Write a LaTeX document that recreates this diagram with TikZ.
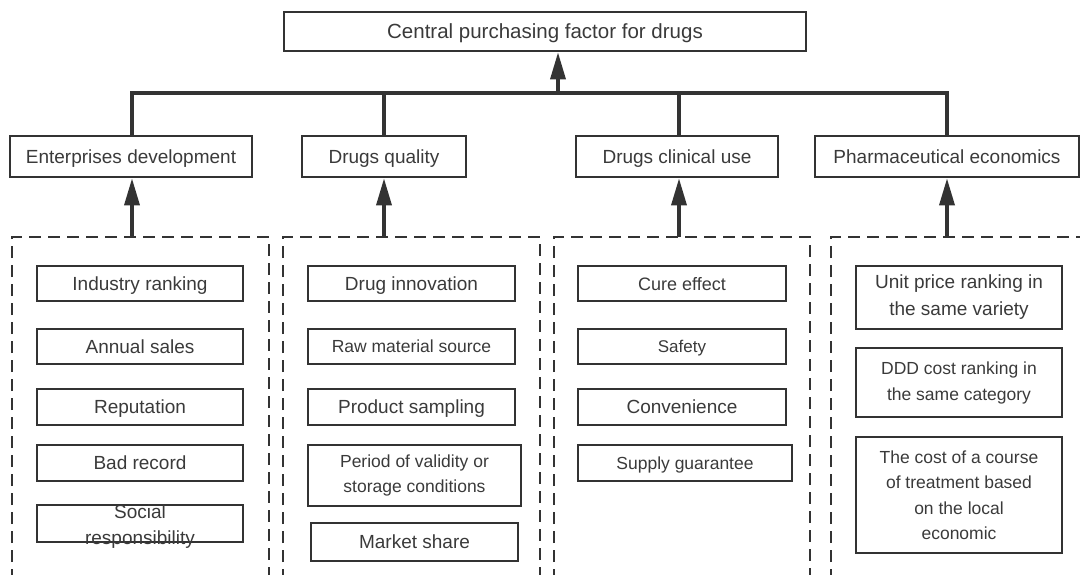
\documentclass[tikz,border=0pt]{standalone}
\usepackage{fontspec}
\setmainfont{Liberation Sans}
\usetikzlibrary{arrows.meta}
\definecolor{ln}{HTML}{333333}
\definecolor{tx}{HTML}{3A3A3A}
\tikzset{
  box/.style={draw=ln, line width=2.7pt, rectangle, inner sep=0pt, text=tx, align=center,
    font=\fontsize{19}{26}\selectfont, text height=13.5pt, text depth=0pt},
  multi/.style={text height={}, text depth={}},
  conn/.style={draw=ln, line width=3.5pt},
  arr/.style={conn, -{Triangle[length=27pt,width=15pt]}},
  grp/.style={draw=ln, line width=2.6pt, dash pattern=on 12pt off 7pt}
}
\begin{document}
\begin{tikzpicture}[x=1pt,y=-1pt]
\useasboundingbox (0,0) rectangle (1080,574);
\clip (0,0) rectangle (1080,574);
% top
\node[box, minimum width=522pt, minimum height=39pt, font=\fontsize{20.5}{26}\selectfont, text height=14.5pt] (top) at (545,31.5) {Central purchasing factor for drugs};
% categories
\node[box, minimum width=242pt, minimum height=41pt] (c1) at (131,156.5) {Enterprises development};
\node[box, minimum width=164pt, minimum height=41pt] (c2) at (384,156.5) {Drugs quality};
\node[box, minimum width=202pt, minimum height=41pt] (c3) at (677,156.5) {Drugs clinical use};
\node[box, minimum width=264pt, minimum height=41pt] (c4) at (947,156.5) {Pharmaceutical economics};
% bus
\coordinate (b1) at (132,93);
\coordinate (b2) at (384,93);
\coordinate (b3) at (679,93);
\coordinate (b4) at (947,93);
\coordinate (bt) at (558,93);
\draw[conn] (c1.north -| b1) -- (b1) -- (b4) -- (c4.north -| b4);
\draw[conn] (b2) -- (c2.north -| b2);
\draw[conn] (b3) -- (c3.north -| b3);
\draw[arr] (bt) -- (top.south -| bt);
% groups
\draw[grp] (12,600) -- (12,237) -- (269,237) -- (269,600);
\draw[grp] (283,600) -- (283,237) -- (540,237) -- (540,600);
\draw[grp] (554,600) -- (554,237) -- (810,237) -- (810,600);
\draw[grp] (831,600) -- (831,237) -- (1095,237);
\coordinate (g1) at (132,237);
\coordinate (g2) at (384,237);
\coordinate (g3) at (679,237);
\coordinate (g4) at (947,237);
\draw[arr] (g1) -- (c1.south -| g1);
\draw[arr] (g2) -- (c2.south -| g2);
\draw[arr] (g3) -- (c3.south -| g3);
\draw[arr] (g4) -- (c4.south -| g4);
% column 1
\node[box, minimum width=206pt, minimum height=35pt] (a1) at (140,283.5) {Industry ranking};
\node[box, minimum width=206pt, minimum height=35pt] (a2) at (140,346.5) {Annual sales};
\node[box, minimum width=206pt, minimum height=36pt] (a3) at (140,407) {Reputation};
\node[box, minimum width=206pt, minimum height=36pt] (a4) at (140,463) {Bad record};
\node[box, multi, minimum width=206pt, minimum height=37pt] (a5) at (140,523.5) {\smash{\raisebox{-7pt}{\begin{tabular}{@{}c@{}}Social\\[0pt]responsibility\end{tabular}}}};
% column 2
\node[box, minimum width=207pt, minimum height=35pt] (d1) at (411.5,283.5) {Drug innovation};
\node[box, minimum width=207pt, minimum height=35pt, font=\fontsize{17.5}{26}\selectfont, text height=12.5pt] (d2) at (411.5,346.5) {Raw material source};
\node[box, minimum width=207pt, minimum height=36pt] (d3) at (411.5,407) {Product sampling};
\node[box, multi, minimum width=213pt, minimum height=61pt, font=\fontsize{17.5}{25}\selectfont] (d4) at (414.5,475.5) {Period of validity or\\storage conditions};
\node[box, minimum width=207pt, minimum height=38pt] (d5) at (414.5,542) {Market share};
% column 3
\node[box, minimum width=208pt, minimum height=35pt, font=\fontsize{18}{26}\selectfont, text height=13pt] (e1) at (682,283.5) {Cure effect};
\node[box, minimum width=208pt, minimum height=35pt, font=\fontsize{17}{26}\selectfont, text height=12.2pt] (e2) at (682,346.5) {Safety};
\node[box, minimum width=208pt, minimum height=36pt] (e3) at (682,407) {Convenience};
\node[box, minimum width=214pt, minimum height=36pt, font=\fontsize{17.5}{26}\selectfont, text height=12.5pt] (e4) at (685,463) {Supply guarantee};
% column 4
\node[box, multi, minimum width=206pt, minimum height=63pt, font=\fontsize{19}{27}\selectfont] (f1) at (959,297.5) {Unit price ranking in\\the same variety};
\node[box, multi, minimum width=206pt, minimum height=69pt, font=\fontsize{17.5}{26}\selectfont] (f2) at (959,382.5) {DDD cost ranking in\\the same category};
\node[box, multi, minimum width=206pt, minimum height=116pt, font=\fontsize{17.5}{25.5}\selectfont] (f3) at (959,495) {The cost of a course\\of treatment based\\on the local\\economic};
\end{tikzpicture}
\end{document}
